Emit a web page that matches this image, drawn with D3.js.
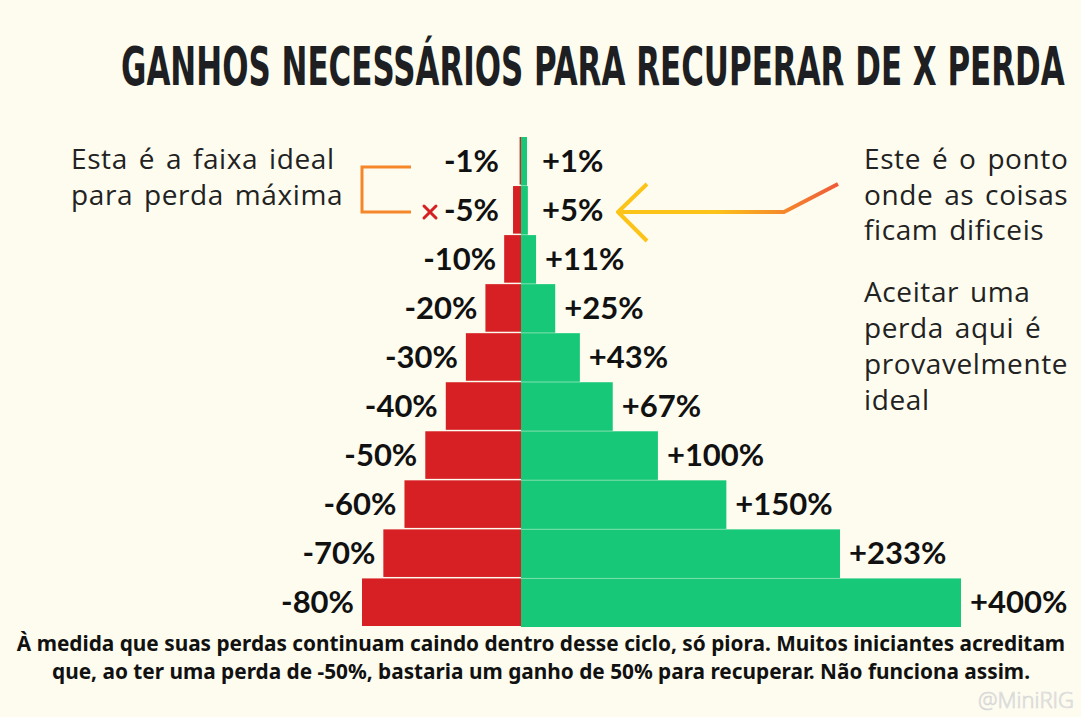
<!DOCTYPE html>
<html>
<head>
<meta charset="utf-8">
<script src="https://cdn.jsdelivr.net/npm/d3@7"></script>
<style>
  html, body { margin: 0; padding: 0; background: #fdfcef; }
  svg { display: block; }
</style>
</head>
<body>
<svg id="chart"></svg>
<script>
// values
const losses = [1, 5, 10, 20, 30, 40, 50, 60, 70, 80];
const gains = [1, 5, 11, 25, 43, 67, 100, 150, 233, 400];

const title = "GANHOS NECESSÁRIOS PARA RECUPERAR DE X PERDA";
const leftNote = ["Esta é a faixa ideal", "para perda máxima"];
const rightNote1 = ["Este é o ponto", "onde as coisas", "ficam dificeis"];
const rightNote2 = ["Aceitar uma", "perda aqui é", "provavelmente", "ideal"];
const footer = [
  "À medida que suas perdas continuam caindo dentro desse ciclo, só piora. Muitos iniciantes acreditam",
  "que, ao ter uma perda de -50%, bastaria um ganho de 50% para recuperar. Não funciona assim."
];

const w = 1081, h = 717;
const cx = 521; // centre line between the two sides
const red = "#d62024", green = "#16c878";

const svg = d3.select("#chart").attr("width", w).attr("height", h);

svg.append("rect").attr("width", w).attr("height", h).attr("fill", "#fdfcef");

// rows
const y = d3.scaleBand()
  .domain(d3.range(losses.length))
  .range([137, 626])
  .paddingInner(0.03);

// left side (losses) and right side (gains), right side compressed at the top end
const xLoss = d3.scalePow().exponent(1.08).domain([0, 80]).range([0, 159]);
const xGain = d3.scaleLinear().domain([0, 233, 400]).range([0, 319, 440]);
const gainWidth = (v) => Math.max(6, xGain(v));

// title, squeezed horizontally to look like a condensed display face
const titleText = svg.append("text")
  .style("font-family", "'Liberation Sans Narrow', 'DejaVu Sans Condensed', sans-serif")
  .style("font-weight", "700")
  .style("font-size", "54px")
  .style("fill", "#1e1f22")
  .text(title);
const natural = titleText.node().getComputedTextLength();
titleText.attr("transform", `translate(121,85) scale(${944 / natural},1)`);

// loss bars
svg.selectAll(".loss")
  .data(losses)
  .enter()
  .append("rect")
  .attr("class", "loss")
  .attr("x", (d) => cx - xLoss(d))
  .attr("y", (d, i) => y(i))
  .attr("width", (d) => xLoss(d))
  .attr("height", y.bandwidth())
  .attr("fill", red);

// gain bars
svg.selectAll(".gain")
  .data(gains)
  .enter()
  .append("rect")
  .attr("class", "gain")
  .attr("x", cx)
  .attr("y", (d, i) => y(i))
  .attr("width", (d) => gainWidth(d))
  .attr("height", y.bandwidth() + 1)
  .attr("fill", green);

const labelStyle = (sel) => sel
  .style("font-family", "Lato, sans-serif")
  .style("font-weight", "700")
  .style("font-size", "31px")
  .style("fill", "#111");

svg.selectAll(".loss-label")
  .data(losses)
  .enter()
  .append("text")
  .attr("class", "loss-label")
  .attr("x", (d) => cx - Math.max(xLoss(d), 14) - 8)
  .attr("y", (d, i) => y(i) + y.bandwidth() / 2)
  .attr("dy", "0.36em")
  .attr("text-anchor", "end")
  .call(labelStyle)
  .text((d) => `-${d}%`);

svg.selectAll(".gain-label")
  .data(gains)
  .enter()
  .append("text")
  .attr("class", "gain-label")
  .attr("x", (d) => cx + Math.max(gainWidth(d), 12) + 9)
  .attr("y", (d, i) => y(i) + y.bandwidth() / 2)
  .attr("dy", "0.36em")
  .call(labelStyle)
  .text((d) => `+${d}%`);

// notes
const noteStyle = (sel) => sel
  .style("font-family", "'Open Sans', sans-serif")
  .style("font-weight", "400")
  .style("font-size", "28px")
  .style("letter-spacing", "0.6px")
  .style("word-spacing", "3px")
  .style("fill", "#222");

function note(lines, x, y0, step) {
  svg.append("g").selectAll("text")
    .data(lines)
    .enter()
    .append("text")
    .attr("x", x)
    .attr("y", (d, i) => y0 + i * step)
    .call(noteStyle)
    .text((d) => d);
}
note(leftNote, 71, 169, 36);
note(rightNote1, 864, 169, 35.5);
note(rightNote2, 864, 302, 36);

// orange bracket next to the first two rows
svg.append("path")
  .attr("d", "M411,167 H362 V212 H411")
  .attr("fill", "none")
  .attr("stroke", "#f5872a")
  .attr("stroke-width", 3);

// red cross
const mark = svg.append("g").attr("transform", "translate(430,212)")
  .attr("stroke", red).attr("stroke-width", 3).attr("stroke-linecap", "round");
mark.append("line").attr("x1", -6).attr("y1", -6).attr("x2", 6).attr("y2", 6);
mark.append("line").attr("x1", -6).attr("y1", 6).attr("x2", 6).attr("y2", -6);

// arrow pointing at the -5% row
const grad = svg.append("defs").append("linearGradient")
  .attr("id", "arrowGrad")
  .attr("gradientUnits", "userSpaceOnUse")
  .attr("x1", 715).attr("y1", 0).attr("x2", 838).attr("y2", 0);
grad.append("stop").attr("offset", "0").attr("stop-color", "#fcc419");
grad.append("stop").attr("offset", "0.55").attr("stop-color", "#f5892b");
grad.append("stop").attr("offset", "1").attr("stop-color", "#ef5a38");

svg.append("path")
  .attr("d", "M838,184 L784,212 H618 M647,184 L618,212 L647,241")
  .attr("fill", "none")
  .attr("stroke", "url(#arrowGrad)")
  .attr("stroke-width", 4)
  .attr("stroke-linejoin", "round");

// footer
svg.append("g").selectAll("text")
  .data(footer)
  .enter()
  .append("text")
  .attr("x", 541)
  .attr("y", (d, i) => 651 + i * 28)
  .attr("text-anchor", "middle")
  .style("font-family", "'Noto Sans', sans-serif")
  .style("font-weight", "700")
  .style("font-size", "20.8px")
  .style("fill", "#111")
  .text((d) => d);

// watermark
svg.append("text")
  .attr("x", 1074)
  .attr("y", 708)
  .attr("text-anchor", "end")
  .style("font-family", "'Open Sans', sans-serif")
  .style("font-weight", "300")
  .style("font-size", "22px")
  .style("fill", "#f2f2ee")
  .style("stroke", "#d6d6d6")
  .style("stroke-width", "0.7px")
  .text("@MiniRIG");
</script>
</body>
</html>
